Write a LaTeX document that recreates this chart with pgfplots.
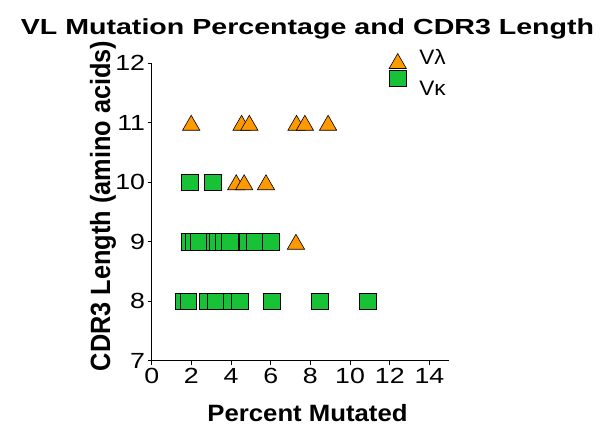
\documentclass[border=0pt]{standalone}
\usepackage{fontspec}
\setmainfont{Liberation Sans}
\usepackage{graphicx}
\usepackage{pgfplots}
\pgfplotsset{compat=1.18}
\newfontfamily\titlefont{Liberation Sans}[FakeStretch=1.31]
\newfontfamily\tickfont{Liberation Sans}[FakeStretch=1.22]
\newfontfamily\xlabfont{Liberation Sans}[FakeStretch=1.09]
\newfontfamily\legfont{Liberation Sans}[FakeStretch=1.08]
\definecolor{lamorange}{RGB}{255,153,0}
\definecolor{kapgreen}{RGB}{23,194,54}
\begin{document}
\begin{tikzpicture}
\useasboundingbox (0,0) rectangle (606bp,425bp);
\begin{axis}[
  at={(151.7bp,64.3bp)}, anchor=south west,
  scale only axis, width=297.6bp, height=297.4bp,
  xmin=0, xmax=15, ymin=7, ymax=12,
  axis x line=bottom, axis y line=left,
  axis line style={-, line width=0.9pt},
  xtick={0,2,...,14}, ytick={7,...,12},
  tick align=outside, major tick length=4pt,
  tick style={line width=0.8pt, black},
  ticklabel style={font=\tickfont\fontsize{22}{22}\selectfont},
  /pgf/number format/assume math mode=true,
  yticklabel style={inner xsep=2.5pt},
  clip=false,
  legend style={draw=none, fill=none, at={(0.797,1.053)}, anchor=north west,
    inner sep=0pt, row sep=1.5pt, font=\legfont\fontsize{21}{21}\selectfont},
  legend cell align=left,
]
\addplot[only marks, mark=triangle*, mark size=10pt,
  mark options={fill=lamorange, draw=black, line width=0.6pt, yshift=-2.5pt},
  legend image code/.code={\path (-8pt,0pt) (19.5pt,0pt);\draw[mark repeat=2,mark phase=2,yshift=-3pt] plot coordinates {(-8pt,0pt)(0pt,0pt)(16pt,0pt)};}]
  coordinates {
  (1.99,11) (4.53,11) (4.92,11) (7.30,11) (7.72,11) (8.89,11)
  (4.26,10) (4.66,10) (5.76,10)
  (7.27,9)
  };
\addlegendentry{Vλ}
\addplot[only marks, mark=square*, mark size=8.3pt,
  mark options={fill=kapgreen, draw=black, line width=0.6pt},
  legend image code/.code={\path (-8pt,0pt) (19.5pt,0pt);\draw[mark repeat=2,mark phase=2,yshift=11pt] plot coordinates {(-8pt,0pt)(0pt,0pt)(16pt,0pt)};}]
  coordinates {
  (1.93,10) (3.07,10)
  (1.93,9) (2.12,9) (2.35,9) (3.19,9) (3.32,9) (3.60,9) (3.94,9) (4.83,9) (5.20,9) (6.00,9)
  (1.63,8) (1.84,8) (2.82,8) (3.24,8) (4.03,8) (4.45,8) (6.04,8) (8.47,8) (10.88,8)
  };
\addlegendentry{Vκ}
\end{axis}
\node[anchor=base, font=\titlefont\bfseries\fontsize{21.9}{22}\selectfont] at (307.5bp,390bp) {VL Mutation Percentage and CDR3 Length};
\node[anchor=base, font=\xlabfont\bfseries\fontsize{23.7}{24}\selectfont] at (307.5bp,4bp) {Percent Mutated};
\node[rotate=90, anchor=base, font=\bfseries\fontsize{25.4}{26}\selectfont] at (110bp,219bp) {\scalebox{1}[1.1]{CDR3 Length (amino acids)}};
\end{tikzpicture}
\end{document}
